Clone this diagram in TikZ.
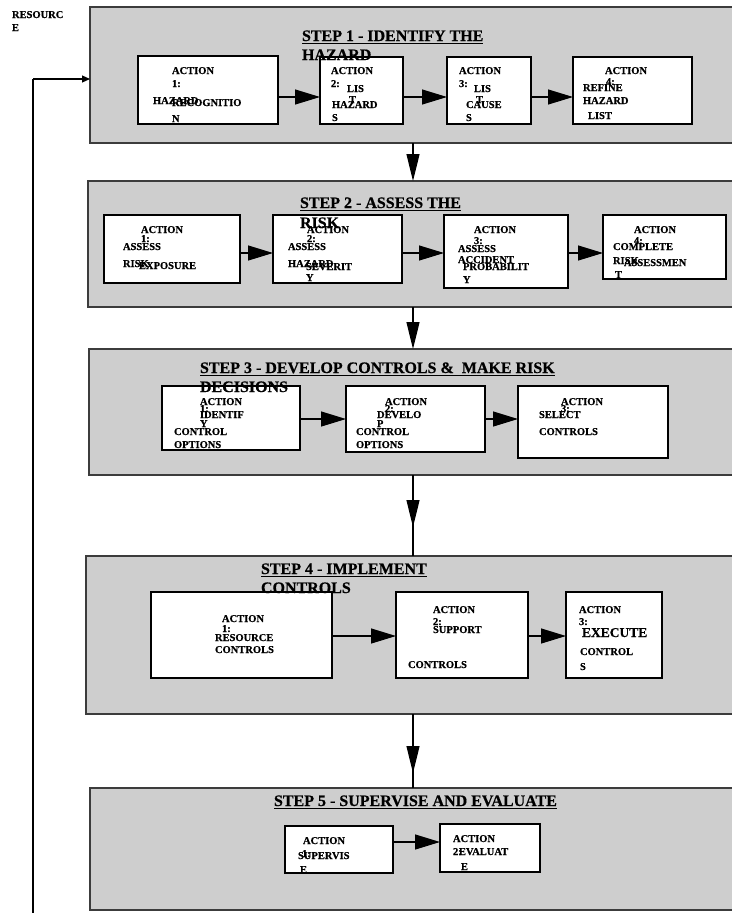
\documentclass[tikz,border=0pt]{standalone}
\usepackage{fontspec}
\setmainfont{Liberation Serif}[BoldFeatures={FakeBold=0.6}]
\usetikzlibrary{arrows.meta}
\definecolor{stepgray}{RGB}{206,206,206}
\definecolor{stepline}{RGB}{60,60,60}
\newcommand{\smf}{\fontsize{10.5}{12}\selectfont\bfseries}
\newcommand{\bigf}{\fontsize{13.5}{15}\selectfont\bfseries}
\newcommand{\ttlf}{\fontsize{16}{19}\selectfont\bfseries}
\newcommand{\mkbox}[6]{\node[#2, minimum width={#5-#3}, minimum height={#6-#4}] (#1) at ({(#3+#5)/2},{-(#4+#6)/2}) {};}
\newcommand{\tx}[4]{\node[txt] (#1) at (#2,-#3) {#4};}
\newcommand{\tl}[4]{\node[ttl] (#1) at (#2,-#3) {#4};}
\newcommand{\ulin}[1]{\draw[ul] ([yshift=-2.5pt]#1.base west) -- ([yshift=-2.5pt]#1.base east);}
\begin{document}
\begin{tikzpicture}[x=1pt,y=1pt,
 stepbox/.style={draw=stepline, fill=stepgray, line width=1.5pt, inner sep=0, outer sep=0},
 actbox/.style={draw=black, fill=white, line width=1.2pt, inner sep=0, outer sep=0},
 txt/.style={anchor=base west, inner sep=0, outer sep=0, font=\smf},
 ttl/.style={anchor=base west, inner sep=0, outer sep=0, font=\ttlf},
 ul/.style={line width=1.8pt},
 conn/.style={line width=1.2pt},
 harr/.style={line width=1.2pt, -{Triangle[length=25pt,width=15pt]}},
 varr/.style={line width=1.2pt, -{Triangle[length=27pt,width=13pt]}},
 fbarr/.style={line width=1.2pt, -{Triangle[length=8pt,width=7pt]}}]
\useasboundingbox (0,0) rectangle (731,-913);
% step boxes
\mkbox{s1}{stepbox}{90}{7}{745}{143}
\mkbox{s2}{stepbox}{88}{181}{745}{307}
\mkbox{s3}{stepbox}{89}{349}{745}{475}
\mkbox{s4}{stepbox}{86}{556}{745}{714}
\mkbox{s5}{stepbox}{90}{788}{745}{910}
% action boxes
\mkbox{b11}{actbox}{138}{56}{278}{124}
\mkbox{b12}{actbox}{320}{57}{403}{124}
\mkbox{b13}{actbox}{447}{57}{531}{124}
\mkbox{b14}{actbox}{573}{57}{692}{124}
\mkbox{b21}{actbox}{104}{215}{240}{283}
\mkbox{b22}{actbox}{273}{215}{402}{283}
\mkbox{b23}{actbox}{444}{215}{568}{288}
\mkbox{b24}{actbox}{603}{215}{726}{279}
\mkbox{b31}{actbox}{162}{386}{300}{450}
\mkbox{b32}{actbox}{346}{386}{485}{452}
\mkbox{b33}{actbox}{518}{386}{668}{458}
\mkbox{b41}{actbox}{151}{592}{332}{678}
\mkbox{b42}{actbox}{396}{592}{528}{678}
\mkbox{b43}{actbox}{566}{592}{662}{678}
\mkbox{b51}{actbox}{285}{826}{393}{873}
\mkbox{b52}{actbox}{440}{824}{540}{872}
% connector coordinates
\coordinate (y1) at (0,-97);
\coordinate (y2) at (0,-253);
\coordinate (y3) at (0,-419);
\coordinate (y4) at (0,-636);
\coordinate (y5) at (0,-842);
\coordinate (ax) at (413,0);
\coordinate (h34) at (413,-527);
\coordinate (h45) at (413,-773);
\coordinate (fbb) at (33,-913);
\coordinate (fbt) at (33,-79);
% horizontal arrows
\draw[harr] (b11.east |- y1) -- (b12.west |- y1);
\draw[harr] (b12.east |- y1) -- (b13.west |- y1);
\draw[harr] (b13.east |- y1) -- (b14.west |- y1);
\draw[harr] (b21.east |- y2) -- (b22.west |- y2);
\draw[harr] (b22.east |- y2) -- (b23.west |- y2);
\draw[harr] (b23.east |- y2) -- (b24.west |- y2);
\draw[harr] (b31.east |- y3) -- (b32.west |- y3);
\draw[harr] (b32.east |- y3) -- (b33.west |- y3);
\draw[harr] (b41.east |- y4) -- (b42.west |- y4);
\draw[harr] (b42.east |- y4) -- (b43.west |- y4);
\draw[harr] (b51.east |- y5) -- (b52.west |- y5);
% vertical arrows
\draw[varr] (s1.south -| ax) -- (s2.north -| ax);
\draw[varr] (s2.south -| ax) -- (s3.north -| ax);
\draw[conn] (s3.south -| ax) -- (s4.north -| ax);
\draw[varr] (s3.south -| ax) -- (h34);
\draw[conn] (s4.south -| ax) -- (s5.north -| ax);
\draw[varr] (s4.south -| ax) -- (h45);
% feedback
\draw[conn] (fbb) -- (fbt);
\draw[fbarr] (fbt) -- (s1.west |- fbt);
% resource label
\tx{r1}{12}{18}{RESOURC}
\tx{r2}{12}{31}{E}
% titles
\tl{t1a}{302}{41}{STEP 1 - IDENTIFY THE}
\tl{t1b}{302}{60}{HAZARD}
\tl{t2a}{300}{208}{STEP 2 - ASSESS THE}
\tl{t2b}{300}{228}{RISK}
\tl{t3a}{200}{373}{STEP 3 - DEVELOP CONTROLS \&~ MAKE RISK}
\tl{t3b}{200}{392}{DECISIONS}
\tl{t4a}{261}{574}{STEP 4 - IMPLEMENT}
\tl{t4b}{261}{593}{CONTROLS}
\tl{t5a}{274}{806}{STEP 5 - SUPERVISE AND EVALUATE}
\ulin{t1a}\ulin{t2a}\ulin{t3a}\ulin{t4a}\ulin{t5a}
% step 1 texts
\tx{p11a}{172}{74}{ACTION}
\tx{p11b}{172}{87}{1:}
\tx{p11c}{153}{104}{HAZARD}
\tx{p11d}{172}{106}{RECOGNITIO}
\tx{p11e}{172}{122}{N}
\tx{p12a}{331}{74}{ACTION}
\tx{p12b}{331}{87}{2:}
\tx{p12c}{347}{92}{LIS}
\tx{p12d}{349}{103}{T}
\tx{p12e}{332}{108}{HAZARD}
\tx{p12f}{332}{121}{S}
\tx{p13a}{459}{74}{ACTION}
\tx{p13b}{459}{87}{3:}
\tx{p13c}{474}{92}{LIS}
\tx{p13d}{476}{103}{T}
\tx{p13e}{466}{108}{CAUSE}
\tx{p13f}{466}{121}{S}
\tx{p14a}{605}{74}{ACTION}
\tx{p14b}{606}{85}{4:}
\tx{p14c}{583}{91}{REFINE}
\tx{p14d}{583}{104}{HAZARD}
\tx{p14e}{588}{119}{LIST}
% step 2 texts
\tx{p21a}{141}{233}{ACTION}
\tx{p21b}{141}{242}{1:}
\tx{p21c}{123}{250}{ASSESS}
\tx{p21d}{123}{267}{RISK}
\tx{p21e}{139}{269}{EXPOSURE}
\tx{p22a}{307}{233}{ACTION}
\tx{p22b}{307}{242}{2:}
\tx{p22c}{288}{250}{ASSESS}
\tx{p22d}{288}{267}{HAZARD}
\tx{p22e}{306}{270}{SEVERIT}
\tx{p22f}{306}{281}{Y}
\tx{p23a}{474}{233}{ACTION}
\tx{p23b}{474}{244}{3:}
\tx{p23c}{458}{252}{ASSESS}
\tx{p23d}{458}{263}{ACCIDENT}
\tx{p23e}{463}{270}{PROBABILIT}
\tx{p23f}{463}{283}{Y}
\tx{p24a}{634}{233}{ACTION}
\tx{p24b}{634}{244}{4:}
\tx{p24c}{613}{250}{COMPLETE}
\tx{p24d}{613}{264}{RISK}
\tx{p24e}{624}{266}{ASSESSMEN}
\tx{p24f}{615}{278}{T}
% step 3 texts
\tx{p31a}{200}{405}{ACTION}
\tx{p31b}{200}{412}{1:}
\tx{p31c}{200}{418}{IDENTIF}
\tx{p31d}{200}{427}{Y}
\tx{p31e}{174}{435}{CONTROL}
\tx{p31f}{174}{448}{OPTIONS}
\tx{p32a}{385}{405}{ACTION}
\tx{p32b}{385}{412}{2:}
\tx{p32c}{377}{418}{DEVELO}
\tx{p32d}{377}{427}{P}
\tx{p32e}{356}{435}{CONTROL}
\tx{p32f}{356}{448}{OPTIONS}
\tx{p33a}{561}{405}{ACTION}
\tx{p33b}{561}{412}{3:}
\tx{p33c}{539}{418}{SELECT}
\tx{p33d}{539}{435}{CONTROLS}
% step 4 texts
\tx{p41a}{222}{622}{ACTION}
\tx{p41b}{222}{632}{1:}
\tx{p41c}{215}{641}{RESOURCE}
\tx{p41d}{215}{653}{CONTROLS}
\tx{p42a}{433}{613}{ACTION}
\tx{p42b}{433}{625}{2:}
\tx{p42c}{433}{633}{SUPPORT}
\tx{p42d}{408}{668}{CONTROLS}
\tx{p43a}{579}{613}{ACTION}
\tx{p43b}{579}{625}{3:}
\node[txt, font=\bigf] (p43c) at (582,-637) {EXECUTE};
\tx{p43d}{580}{655}{CONTROL}
\tx{p43e}{580}{670}{S}
% step 5 texts
\tx{p51a}{303}{844}{ACTION}
\tx{p51b}{302}{857}{1:}
\tx{p51c}{298}{859}{SUPERVIS}
\tx{p51d}{300}{873}{E}
\tx{p52a}{453}{842}{ACTION}
\tx{p52b}{453}{855}{2:}
\tx{p52c}{459}{855}{EVALUAT}
\tx{p52d}{461}{870}{E}
\end{tikzpicture}
\end{document}
